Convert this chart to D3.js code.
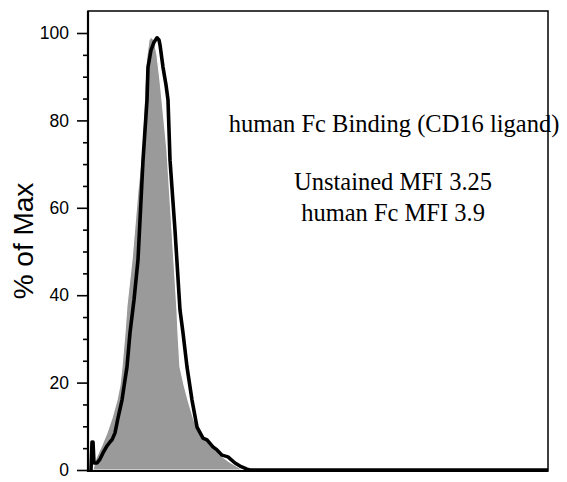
<!DOCTYPE html>
<html><head><meta charset="utf-8">
<script src="https://cdn.jsdelivr.net/npm/d3@7"></script>
<style>html,body{margin:0;padding:0;background:#fff;}svg{display:block;}</style>
</head><body>
<script>
// Unstained (grey filled) histogram: channel vs % of Max
const unstainedX = [10.9,17.4,30.4,41.3,52.2,63.0,69.6,73.9,80.4,84.8,95.7,108.7,117.4,121.7,123.9,128.3,132.6,137.0,143.5,150.0,156.5,163.0,171.7,182.6,193.5,195.7,200.0,208.7,217.4,230.4,243.5,271.7,287.0,308.7,334.8];
const unstainedY = [0.2,2.7,5.7,8.5,11.9,16.0,19.5,23.6,31.4,37.8,48.1,64.1,73.2,82.4,88.1,95.0,98.4,99.1,98.4,95.0,89.2,82.4,73.2,54.9,36.6,31.4,23.6,19.5,16.0,11.4,8.5,5.3,3.4,1.8,0.2];
// human Fc (black line) histogram
const humanFcX = [6.5,8.7,10.9,13.0,19.6,26.1,32.6,41.3,47.8,52.2,58.7,65.2,73.9,80.4,84.8,91.3,100.0,108.7,119.6,128.3,130.4,137.0,143.5,150.0,154.3,156.5,163.0,169.6,173.9,178.3,189.1,200.0,206.5,215.2,226.1,237.0,250.0,258.7,271.7,280.4,291.3,304.3,319.6,330.4,345.7,352.2,1000];
const humanFcY = [0,6.4,6.4,1.6,1.6,2.5,3.9,5.5,6.4,6.9,8.5,11.9,16.0,20.6,23.6,31.4,38.9,48.1,70.9,84.7,92.2,96.1,97.9,98.9,98.4,97.3,92.2,88.1,84.7,70.9,54.9,36.6,31.4,23.6,16.0,9.8,7.3,6.9,5.3,4.6,3.4,3.0,1.6,0.9,0.2,0,0];
const yTicks = [0,20,40,60,80,100];
const yLabel = "% of Max";
const notes = ["human Fc Binding (CD16 ligand)", "Unstained MFI 3.25", "human Fc MFI 3.9"];

(function () {
const W = 567, H = 482;
const svg = d3.select("body").append("svg").attr("width", W).attr("height", H);
const pL = 88, pR = 548, pT = 11, pB = 471;
const x = d3.scaleLinear().domain([0, 1000]).range([pL, pR]);
const y = d3.scaleLinear().domain([0, 100]).range([470, 33]);

const g = svg.append("g");
const unst = unstainedX.map((v, i) => [v, unstainedY[i]]);
const hfc = humanFcX.map((v, i) => [v, humanFcY[i]]);

g.append("path").datum(unst)
  .attr("d", d3.area().x(d => x(d[0])).y0(y(0)).y1(d => y(d[1])))
  .attr("fill", "#9a9a9a").attr("stroke", "#fff").attr("stroke-width", 1.2);

g.append("path").datum(hfc)
  .attr("d", d3.line().x(d => x(d[0])).y(d => y(d[1])))
  .attr("fill", "none").attr("stroke", "#000").attr("stroke-width", 3.6)
  .attr("stroke-linejoin", "round");

// annotations
const noteX = [394, 393, 393], noteY = [132, 190, 221];
svg.selectAll("text.note").data(notes).join("text").attr("class", "note")
  .attr("x", (d, i) => noteX[i]).attr("y", (d, i) => noteY[i])
  .attr("text-anchor", "middle")
  .attr("font-family", "'Liberation Serif','Times New Roman',serif")
  .attr("font-size", 24.5).attr("fill", "#000").text(d => d);

// frame
svg.append("rect").attr("x", pL).attr("y", pT).attr("width", pR - pL).attr("height", pB - pT)
  .attr("fill", "none").attr("stroke", "#000").attr("stroke-width", 1.5);
svg.append("line").attr("x1", pL).attr("x2", pL).attr("y1", pT).attr("y2", pB + 1)
  .attr("stroke", "#000").attr("stroke-width", 2.2);
svg.append("line").attr("x1", pL).attr("x2", pR).attr("y1", pB).attr("y2", pB)
  .attr("stroke", "#000").attr("stroke-width", 2.2);

// y axis
const minor = d3.range(0, 101, 5).filter(v => v % 20 !== 0);
const ax = svg.append("g").attr("transform", `translate(${pL},0)`);
ax.call(d3.axisLeft(y).tickValues(yTicks).tickSize(11).tickPadding(8).tickFormat(d3.format("d")));
ax.select(".domain").remove();
ax.selectAll(".tick line").attr("stroke", "#000").attr("stroke-width", 1.6);
ax.selectAll(".tick text").attr("font-family", "'Liberation Sans',Arial,sans-serif").attr("font-size", 17.5).attr("fill", "#000");
const axm = svg.append("g").attr("transform", `translate(${pL},0)`);
axm.call(d3.axisLeft(y).tickValues(minor).tickSize(5).tickFormat(""));
axm.select(".domain").remove();
axm.selectAll(".tick line").attr("stroke", "#000").attr("stroke-width", 1.6);

svg.append("text").attr("transform", "translate(33,241) rotate(-90)")
  .attr("text-anchor", "middle")
  .attr("font-family", "'Liberation Sans',Arial,sans-serif")
  .attr("font-size", 28).attr("fill", "#000").text(yLabel);
})();
</script>
</body></html>
